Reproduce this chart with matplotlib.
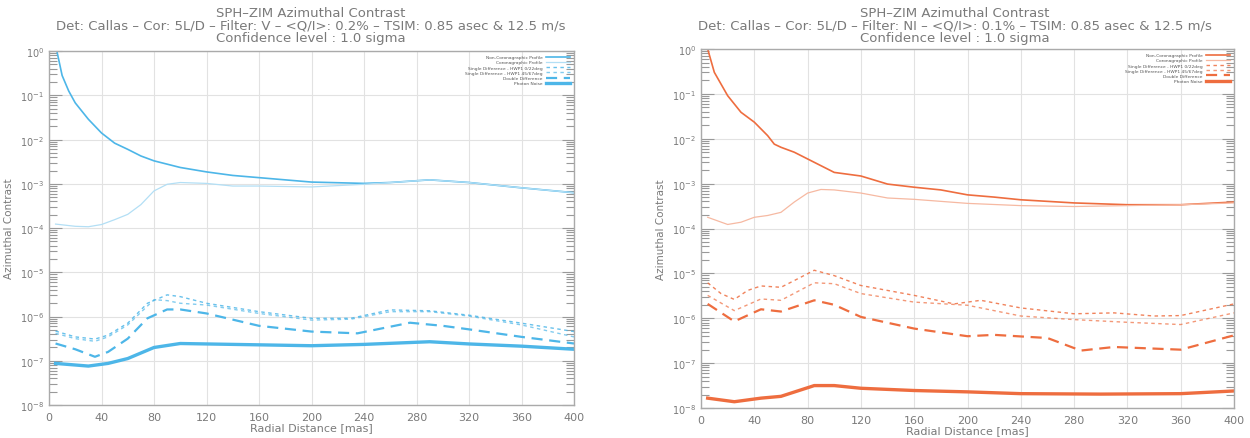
import numpy as np
import matplotlib
matplotlib.use("Agg")
import matplotlib.pyplot as plt
from matplotlib.ticker import LogLocator, NullFormatter, MultipleLocator, FixedLocator

# ---- data (log10 of azimuthal contrast) ----
labels = ["Non-Coronagraphic Profile", "Coronagraphic Profile",
          "Single Difference - HWP1 0/22deg", "Single Difference - HWP1 45/67deg",
          "Double Difference", "Photon Noise"]

# left panel : filter V
v_nc_x = [6, 10, 15, 20, 30, 40, 50, 60, 70, 80, 100, 120, 140, 160, 200, 240, 260, 290, 320, 360, 400]
v_nc_y = [0.0, -0.55, -0.90, -1.17, -1.54, -1.85, -2.08, -2.22, -2.37, -2.48, -2.63, -2.73,
          -2.81, -2.86, -2.96, -2.99, -2.97, -2.91, -2.97, -3.09, -3.20]
v_co_x = [5, 20, 30, 40, 50, 60, 70, 80, 90, 100, 120, 140, 160, 200, 240, 260, 290, 320, 360, 400]
v_co_y = [-3.91, -3.96, -3.97, -3.92, -3.81, -3.69, -3.47, -3.16, -3.01, -2.97, -2.99, -3.05,
          -3.05, -3.07, -3.01, -2.97, -2.91, -2.97, -3.09, -3.20]
v_sd1_x = [5, 20, 35, 45, 60, 75, 90, 100, 120, 160, 200, 230, 260, 290, 320, 360, 400]
v_sd1_y = [-6.33, -6.46, -6.51, -6.42, -6.15, -5.70, -5.51, -5.55, -5.70, -5.89, -6.04, -6.04,
           -5.85, -5.87, -5.97, -6.15, -6.34]
v_sd2_x = [5, 20, 35, 45, 60, 80, 90, 100, 120, 160, 200, 230, 260, 290, 320, 360, 400]
v_sd2_y = [-6.38, -6.50, -6.56, -6.46, -6.19, -5.62, -5.64, -5.70, -5.74, -5.93, -6.08, -6.06,
           -5.89, -5.89, -5.99, -6.19, -6.46]
v_dd_x = [5, 20, 35, 45, 60, 75, 90, 100, 120, 160, 200, 235, 260, 275, 300, 320, 360, 400]
v_dd_y = [-6.61, -6.74, -6.91, -6.80, -6.50, -6.04, -5.84, -5.84, -5.93, -6.21, -6.34, -6.38,
          -6.23, -6.14, -6.21, -6.29, -6.46, -6.61]
v_pn_x = [5, 30, 45, 60, 80, 100, 140, 200, 240, 290, 320, 360, 400]
v_pn_y = [-7.06, -7.12, -7.06, -6.95, -6.70, -6.61, -6.63, -6.66, -6.63, -6.57, -6.62, -6.67, -6.74]

# right panel : filter NI
n_nc_x = [5, 10, 20, 30, 40, 50, 55, 60, 70, 80, 90, 100, 120, 140, 160, 180, 200, 220, 240, 280, 320, 360, 400]
n_nc_y = [0.0, -0.52, -1.04, -1.41, -1.63, -1.93, -2.12, -2.19, -2.30, -2.45, -2.60, -2.75,
          -2.83, -3.01, -3.08, -3.14, -3.25, -3.30, -3.36, -3.43, -3.47, -3.47, -3.41]
n_co_x = [5, 20, 30, 40, 50, 60, 70, 80, 90, 100, 120, 140, 160, 200, 240, 280, 320, 360, 400]
n_co_y = [-3.75, -3.91, -3.86, -3.75, -3.71, -3.64, -3.41, -3.21, -3.13, -3.14, -3.21, -3.32,
          -3.35, -3.44, -3.49, -3.51, -3.49, -3.47, -3.43]
n_sd1_x = [5, 15, 25, 35, 45, 60, 70, 85, 100, 120, 160, 190, 210, 240, 280, 310, 340, 360, 400]
n_sd1_y = [-5.21, -5.45, -5.58, -5.38, -5.28, -5.31, -5.16, -4.93, -5.05, -5.27, -5.49, -5.68,
           -5.60, -5.77, -5.90, -5.88, -5.95, -5.94, -5.68]
n_sd2_x = [5, 25, 45, 60, 85, 100, 120, 160, 200, 240, 280, 320, 360, 400]
n_sd2_y = [-5.49, -5.83, -5.57, -5.60, -5.21, -5.23, -5.45, -5.64, -5.71, -5.95, -6.03, -6.09,
           -6.14, -5.88]
n_dd_x = [5, 25, 45, 60, 85, 100, 120, 160, 200, 220, 260, 285, 310, 360, 400]
n_dd_y = [-5.68, -6.07, -5.80, -5.85, -5.60, -5.70, -5.97, -6.23, -6.40, -6.37, -6.44, -6.72,
          -6.64, -6.70, -6.38]
n_pn_x = [5, 25, 45, 60, 85, 100, 120, 160, 200, 240, 300, 360, 400]
n_pn_y = [-7.78, -7.86, -7.78, -7.74, -7.50, -7.50, -7.56, -7.61, -7.64, -7.68, -7.69, -7.68, -7.62]

titles_v = ["SPH\u2013ZIM Azimuthal Contrast",
            "Det: Callas \u2013 Cor: 5L/D \u2013 Filter: V \u2013 <Q/I>: 0.2% \u2013 TSIM: 0.85 asec & 12.5 m/s",
            "Confidence level : 1.0 sigma"]
titles_n = ["SPH\u2013ZIM Azimuthal Contrast",
            "Det: Callas \u2013 Cor: 5L/D \u2013 Filter: NI \u2013 <Q/I>: 0.1% \u2013 TSIM: 0.85 asec & 12.5 m/s",
            "Confidence level : 1.0 sigma"]
decades = np.arange(-8, 1)

TXT = "#7a7a7a"

fig = plt.figure(figsize=(12.5, 4.39), dpi=100)
ax1 = fig.add_axes([0.0392, 0.0752, 0.42, 0.806])
ax2 = fig.add_axes([0.5608, 0.0683, 0.4264, 0.8178])


def draw(ax, series, main, light, tcx, titles):
    styles = [dict(color=main, lw=1.2, ls="-"),
              dict(color=light, lw=0.9, ls="-"),
              dict(color=main, lw=1.0, ls=(0, (2.5, 2.5)), alpha=0.85),
              dict(color=main, lw=1.0, ls=(0, (2.5, 2.5)), alpha=0.7),
              dict(color=main, lw=1.6, ls=(0, (5, 3))),
              dict(color=main, lw=2.4, ls="-")]
    for (x, y), st, lab in zip(series, styles, labels):
        ax.plot(x, 10.0 ** np.array(y), label=lab, **st)
    ax.set_yscale("log")
    ax.set_xlim(0, 400)
    ax.set_ylim(1e-8, 1e0)
    ax.xaxis.set_major_locator(MultipleLocator(40))
    ax.yaxis.set_major_locator(FixedLocator(10.0 ** decades))
    ax.yaxis.set_minor_locator(LogLocator(base=10, subs=np.arange(2, 10), numticks=20))
    ax.yaxis.set_minor_formatter(NullFormatter())
    ax.grid(True, which="major", color="#e2e2e2", lw=0.8)
    ax.tick_params(axis="y", which="both", direction="in", left=True, right=True,
                   colors="#999999", labelcolor=TXT, labelsize=7)
    ax.tick_params(axis="y", which="major", length=9, width=0.8)
    ax.tick_params(axis="y", which="minor", length=6, width=0.8)
    ax.tick_params(axis="x", which="both", length=0, labelcolor=TXT, labelsize=8, pad=5)
    for s in ax.spines.values():
        s.set_color("#aaaaaa")
        s.set_linewidth(1.0)
    ax.set_xlabel("Radial Distance [mas]", color=TXT, fontsize=8, labelpad=0)
    ax.set_ylabel("Azimuthal Contrast", color=TXT, fontsize=7.5, labelpad=4)
    leg = ax.legend(loc="upper right", frameon=False, markerfirst=False, fontsize=3.2,
                    handlelength=5.5, handletextpad=0.6, labelspacing=0.25,
                    borderaxespad=0.5)
    for t in leg.get_texts():
        t.set_color("#555555")
    fig.text(tcx, 1 - 26 / 439, "\n".join(titles), ha="center", va="center",
             multialignment="center", fontsize=9.5, linespacing=0.95, color=TXT)


draw(ax1, [(v_nc_x, v_nc_y), (v_co_x, v_co_y), (v_sd1_x, v_sd1_y), (v_sd2_x, v_sd2_y),
           (v_dd_x, v_dd_y), (v_pn_x, v_pn_y)],
     "#4db6e8", "#b3dff5", 311 / 1250, titles_v)
draw(ax2, [(n_nc_x, n_nc_y), (n_co_x, n_co_y), (n_sd1_x, n_sd1_y), (n_sd2_x, n_sd2_y),
           (n_dd_x, n_dd_y), (n_pn_x, n_pn_y)],
     "#ee6d3f", "#f6b9a2", 955 / 1250, titles_n)

fig.savefig("out.png", dpi=100)
